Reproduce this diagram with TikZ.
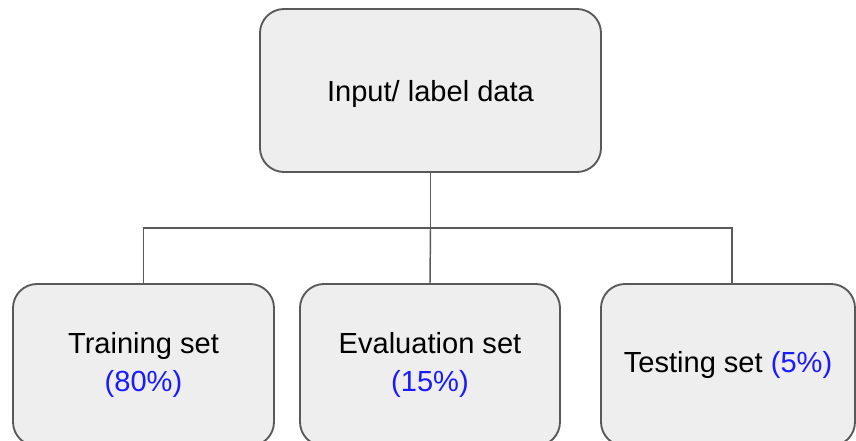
\documentclass[tikz,border=0pt]{standalone}
\usepackage{fontspec}
\setmainfont{Liberation Sans}
\definecolor{boxfill}{HTML}{EEEEEE}
\definecolor{boxline}{HTML}{595959}
\definecolor{pct}{HTML}{1A1AFF}
\newcommand{\lowered}[2]{\raisebox{-#1}[\height][\depth]{#2}}
\begin{document}
\begin{tikzpicture}[x=0.75pt,y=-0.75pt,
  box/.style={draw=boxline, fill=boxfill, line width=1.4pt, rounded corners=18pt,
    align=center, inner sep=0pt, font=\fontsize{21.8}{28.5}\selectfont},
  link/.style={draw=boxline, line width=1.1pt}]
\useasboundingbox (0,0) rectangle (856,441);
\node[box, minimum width=255.75pt, minimum height=122.25pt] (top) at (430.5,90.5) {\lowered{2.6pt}{Input/ label data}};
\node[box, minimum width=195.75pt, minimum height=121.5pt] (train) at (143.5,365) {Training set\\\textcolor{pct}{(80\%)}};
\node[box, minimum width=195pt, minimum height=121.5pt] (eval) at (430,365) {Evaluation set\\\textcolor{pct}{(15\%)}};
\node[box, minimum width=190.5pt, minimum height=121.5pt] (test) at (728,365) {Testing set \textcolor{pct}{(5\%)}};
\coordinate (j) at (430.5,228);
\draw[link] (top.south) -- (j);
\draw[link] (train.north) |- (j) -| (test.north -| 732,0);
\draw[link] (j) -- (eval.north);
\end{tikzpicture}
\end{document}
